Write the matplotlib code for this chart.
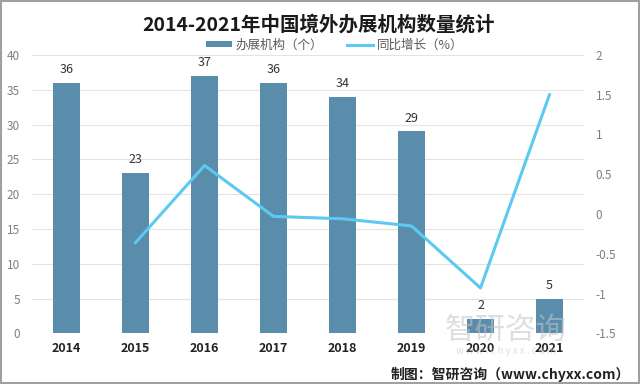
import matplotlib
matplotlib.use("Agg")
import matplotlib.pyplot as plt
from matplotlib.patches import Rectangle

plt.rcParams['font.family'] = ['Noto Sans CJK SC', 'DejaVu Sans']

years = ["2014", "2015", "2016", "2017", "2018", "2019", "2020", "2021"]
counts = [36, 23, 37, 36, 34, 29, 2, 5]
growth = [None, -0.36, 0.61, -0.03, -0.06, -0.15, -0.93, 1.5]

bar_color = "#5a8dab"
line_color = "#5ccaf0"
grid_color = "#e3e3e3"
tick_color = "#7f7f7f"

fig = plt.figure(figsize=(6.4, 3.84), dpi=100)
ax = fig.add_axes([0.05, 0.132, 0.8625, 0.725])
x = list(range(len(years)))
ax.bar(x, counts, width=0.39, color=bar_color, zorder=2, label="办展机构（个）")
ax.set_xlim(-0.5, 7.5)
ax.set_ylim(0, 40)
ax.set_yticks(range(0, 41, 5))
ax.grid(axis='y', color=grid_color, linewidth=0.8, zorder=0)
for s in ax.spines.values():
    s.set_visible(False)
ax.tick_params(axis='both', length=0)
ax.tick_params(axis='y', colors=tick_color, labelsize=8.5, pad=8.5)
ax.set_xticks(x)
ax.set_xticklabels(years, fontsize=9, fontweight='bold', color='#222222')
ax.tick_params(axis='x', pad=6)
for xi, v in zip(x, counts):
    ax.text(xi, v + 1.0, str(v), ha='center', va='bottom', fontsize=9, color='#333333')

ax2 = ax.twinx()
gx = [xi for xi, g in zip(x, growth) if g is not None]
gy = [g for g in growth if g is not None]
ax2.plot(gx, gy, color=line_color, linewidth=2.2, zorder=3, label="同比增长（%）")
ax2.set_ylim(-1.5, 2)
ax2.set_yticks([-1.5, -1, -0.5, 0, 0.5, 1, 1.5, 2])
ax2.set_yticklabels(["-1.5", "-1", "-0.5", "0", "0.5", "1", "1.5", "2"])
for s in ax2.spines.values():
    s.set_visible(False)
ax2.tick_params(axis='y', length=0, colors=tick_color, labelsize=8.5, pad=8.5)

fig.text(0.497, 0.935, "2014-2021年中国境外办展机构数量统计", ha='center', va='center',
         fontsize=14, fontweight='bold', color='#1a1a1a')

h1, l1 = ax.get_legend_handles_labels()
h2, l2 = ax2.get_legend_handles_labels()
fig.legend(h1 + h2, l1 + l2, loc='center', bbox_to_anchor=(0.523, 0.883), ncol=2,
           frameon=False, fontsize=9, handlelength=2.1, handleheight=0.4,
           handletextpad=0.3, columnspacing=1.9, labelcolor='#595959',
           borderpad=0.1)

# watermark
fig.text(0.79, 0.14, "智研咨询", ha='center', va='center', fontsize=22, color='#c4c4c4', alpha=0.55, zorder=0)
fig.text(0.79, 0.085, "w w w . c h y x x . c o m", ha='center', va='center', fontsize=7, color='#c4c4c4', alpha=0.55, zorder=0)

fig.text(0.985, 0.025, "制图：智研咨询（www.chyxx.com）", ha='right', va='center',
         fontsize=10, fontweight='bold', color='#222222')

fig.patches.append(Rectangle((0.002, 0.002), 0.996, 0.996, transform=fig.transFigure,
                             fill=False, edgecolor='#a0a0a0', linewidth=1.5))

fig.savefig("out.png", dpi=100)
